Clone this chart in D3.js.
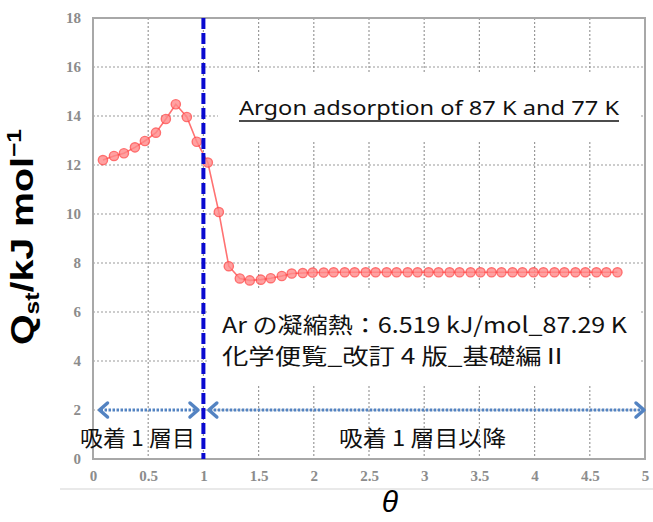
<!DOCTYPE html>
<html>
<head>
<meta charset="utf-8">
<script src="https://cdn.jsdelivr.net/npm/d3@7"></script>
<style>
  body { margin: 0; background: #fff; }
  svg { display: block; }
</style>
</head>
<body>
<script>
// coverage θ and isosteric heat Qst (kJ/mol)
const theta = [
  0.09, 0.19, 0.28, 0.38, 0.47, 0.57, 0.66, 0.75, 0.85, 0.94,
  1.04, 1.14, 1.23, 1.33, 1.42, 1.52, 1.61, 1.71, 1.80, 1.90,
  1.99, 2.09, 2.18, 2.28, 2.37, 2.47, 2.56, 2.66, 2.75, 2.85,
  2.94, 3.04, 3.13, 3.23, 3.32, 3.42, 3.51, 3.61, 3.70, 3.80,
  3.89, 3.99, 4.08, 4.18, 4.27, 4.37, 4.46, 4.56, 4.65, 4.75
];
const qst = [
  12.2, 12.37, 12.48, 12.72, 12.98, 13.32, 13.88, 14.48, 13.96, 12.95,
  12.1, 10.08, 7.87, 7.37, 7.29, 7.32, 7.38, 7.47, 7.57, 7.59,
  7.61, 7.61, 7.62, 7.62, 7.62, 7.62, 7.62, 7.62, 7.62, 7.62,
  7.62, 7.62, 7.62, 7.62, 7.62, 7.62, 7.62, 7.62, 7.62, 7.62,
  7.62, 7.62, 7.62, 7.62, 7.62, 7.62, 7.62, 7.62, 7.62, 7.62
];

const xTicks = [0, 0.5, 1, 1.5, 2, 2.5, 3, 3.5, 4, 4.5, 5];
const yTicks = [0, 2, 4, 6, 8, 10, 12, 14, 16, 18];
const xTickLabels = ["0", "0.5", "1", "1.5", "2", "2.5", "3", "3.5", "4", "4.5", "5"];

// first layer boundary and the two arrow spans (θ) at Qst = 2
const layerBoundary = 1;
const arrowSpans = [[0.05, 0.96], [1.04, 5.0]];
const arrowLevel = 2;

const title = "Argon adsorption of 87 K and 77 K";
const noteLines = ["Ar の凝縮熱：6.519 kJ/mol_87.29 K", "化学便覧_改訂 4 版_基礎編Ⅱ"];
const regionLabels = ["吸着 1 層目", "吸着 1 層目以降"];

const width = 653;
const height = 522;
const margin = { top: 18, right: 8, bottom: 63, left: 93 };

const svg = d3
  .select("body")
  .append("svg")
  .attr("width", width)
  .attr("height", height);

const x = d3
  .scaleLinear()
  .domain([0, 5])
  .range([margin.left, width - margin.right]);
const y = d3
  .scaleLinear()
  .domain([0, 18])
  .range([height - margin.bottom, margin.top]);

const serif = "'Liberation Serif', 'DejaVu Serif', serif";
const jp = "'Noto Sans CJK JP', 'Noto Sans', sans-serif";

// faint line under the axis labels
svg
  .append("line")
  .attr("x1", 60)
  .attr("x2", width)
  .attr("y1", 489)
  .attr("y2", 489)
  .attr("stroke", "#e2e2e2")
  .attr("stroke-width", 1.5);

// dotted grid
const grid = svg.append("g").attr("stroke", "#9a9a9a").attr("stroke-width", 1.2).attr("stroke-dasharray", "2,2");
grid
  .selectAll(".gx")
  .data(xTicks.slice(1, -1))
  .enter()
  .append("line")
  .attr("x1", (d) => x(d))
  .attr("x2", (d) => x(d))
  .attr("y1", y(18))
  .attr("y2", y(0));
grid
  .selectAll(".gy")
  .data(yTicks.slice(1, -1))
  .enter()
  .append("line")
  .attr("x1", x(0))
  .attr("x2", x(5))
  .attr("y1", (d) => y(d))
  .attr("y2", (d) => y(d));

// white boxes behind the annotation texts hide the grid there
svg.append("rect").attr("x", 218).attr("y", 74).attr("width", 422).attr("height", 66).attr("fill", "#fff");
svg.append("rect").attr("x", 208).attr("y", 288).attr("width", 432).attr("height", 96).attr("fill", "#fff");

// plot frame
svg
  .append("rect")
  .attr("x", x(0))
  .attr("y", y(18))
  .attr("width", x(5) - x(0))
  .attr("height", y(0) - y(18))
  .attr("fill", "none")
  .attr("stroke", "#a8a8a8")
  .attr("stroke-width", 2);

// axes (labels only)
const yAxis = svg
  .append("g")
  .attr("transform", `translate(${x(0) - 12},0)`)
  .call(d3.axisLeft(y).tickValues(yTicks).tickSize(0).tickPadding(0));
yAxis.select(".domain").remove();
yAxis
  .selectAll("text")
  .attr("font-family", serif)
  .attr("font-size", 15)
  .attr("font-weight", "bold")
  .attr("fill", "#8c8c8c");

const xAxis = svg
  .append("g")
  .attr("transform", `translate(0,${y(0) + 11})`)
  .call(
    d3
      .axisBottom(x)
      .tickValues(xTicks)
      .tickFormat((d, i) => xTickLabels[i])
      .tickSize(0)
      .tickPadding(0)
  );
xAxis.select(".domain").remove();
xAxis
  .selectAll("text")
  .attr("font-family", serif)
  .attr("font-size", 15)
  .attr("font-weight", "bold")
  .attr("fill", "#8c8c8c");

// series line + markers
const line = d3
  .line()
  .x((d, i) => x(theta[i]))
  .y((d) => y(d));

svg
  .append("path")
  .datum(qst)
  .attr("d", line)
  .attr("fill", "none")
  .attr("stroke", "#ff7272")
  .attr("stroke-width", 1.6);

svg
  .append("g")
  .selectAll("circle")
  .data(qst)
  .enter()
  .append("circle")
  .attr("cx", (d, i) => x(theta[i]))
  .attr("cy", (d) => y(d))
  .attr("r", 4.6)
  .attr("fill", "#ff8a8a")
  .attr("stroke", "#ff4b4b")
  .attr("stroke-width", 1.4)
  .attr("opacity", 0.8);

// first-layer boundary
svg
  .append("line")
  .attr("x1", x(layerBoundary))
  .attr("x2", x(layerBoundary))
  .attr("y1", y(18))
  .attr("y2", y(0))
  .attr("stroke", "#0a0ad0")
  .attr("stroke-width", 4)
  .attr("stroke-dasharray", "11,4");

// double-headed dotted arrows
const arrowColor = "#5383c2";
arrowSpans.forEach(([a, b]) => {
  const ya = y(arrowLevel);
  svg
    .append("line")
    .attr("x1", x(a) + 2)
    .attr("x2", x(b) - 2)
    .attr("y1", ya)
    .attr("y2", ya)
    .attr("stroke", arrowColor)
    .attr("stroke-width", 3)
    .attr("stroke-dasharray", "2.5,1.5");
  svg
    .append("path")
    .attr("d", `M${x(a) + 9},${ya - 7} L${x(a) + 1},${ya} L${x(a) + 9},${ya + 7}`)
    .attr("fill", "none")
    .attr("stroke", arrowColor)
    .attr("stroke-width", 3.5)
    .attr("stroke-linejoin", "round")
    .attr("stroke-linecap", "round");
  svg
    .append("path")
    .attr("d", `M${x(b) - 9},${ya - 7} L${x(b) - 1},${ya} L${x(b) - 9},${ya + 7}`)
    .attr("fill", "none")
    .attr("stroke", arrowColor)
    .attr("stroke-width", 3.5)
    .attr("stroke-linejoin", "round")
    .attr("stroke-linecap", "round");
});

// title with underline
svg
  .append("text")
  .attr("x", 239)
  .attr("y", 115)
  .attr("font-family", "'Noto Sans', 'Open Sans', sans-serif")
  .attr("font-size", 19)
  .attr("textLength", 380)
  .attr("lengthAdjust", "spacingAndGlyphs")
  .attr("fill", "#111")
  .text(title);
svg
  .append("line")
  .attr("x1", 239)
  .attr("x2", 619)
  .attr("y1", 121)
  .attr("y2", 121)
  .attr("stroke", "#111")
  .attr("stroke-width", 1.5);

// condensation heat note
const noteWidths = [405, 346];
svg
  .selectAll(".note")
  .data(noteLines)
  .enter()
  .append("text")
  .attr("x", 222)
  .attr("y", (d, i) => 333 + i * 31)
  .attr("font-family", jp)
  .attr("font-size", 22)
  .attr("textLength", (d, i) => noteWidths[i])
  .attr("lengthAdjust", "spacingAndGlyphs")
  .attr("fill", "#111")
  .text((d) => d);

// region labels
svg
  .append("text")
  .attr("x", 80)
  .attr("y", 446)
  .attr("font-family", jp)
  .attr("font-size", 22)
  .attr("textLength", 115)
  .attr("lengthAdjust", "spacingAndGlyphs")
  .attr("fill", "#111")
  .text(regionLabels[0]);
svg
  .append("text")
  .attr("x", 339)
  .attr("y", 446)
  .attr("font-family", jp)
  .attr("font-size", 22)
  .attr("textLength", 167)
  .attr("lengthAdjust", "spacingAndGlyphs")
  .attr("fill", "#111")
  .text(regionLabels[1]);

// y axis title: Qst/kJ mol-1
const yTitle = svg
  .append("text")
  .attr("transform", "translate(33,237) rotate(-90)")
  .attr("text-anchor", "middle")
  .attr("font-family", "'Liberation Sans', Arial, sans-serif")
  .attr("font-weight", "bold")
  .attr("font-size", 32)
  .attr("textLength", 216)
  .attr("lengthAdjust", "spacingAndGlyphs")
  .attr("fill", "#000");
yTitle.append("tspan").text("Q");
yTitle.append("tspan").attr("font-size", 20).attr("dy", 6).text("st");
yTitle.append("tspan").attr("dy", -6).text("/kJ mol");
yTitle.append("tspan").attr("font-size", 20).attr("dy", -12).text("−1");

// x axis title
svg
  .append("text")
  .attr("x", 390)
  .attr("y", 512)
  .attr("text-anchor", "middle")
  .attr("font-family", "'Liberation Sans', Arial, sans-serif")
  .attr("font-style", "italic")
  .attr("font-size", 30)
  .attr("fill", "#000")
  .text("θ");
</script>
</body>
</html>
